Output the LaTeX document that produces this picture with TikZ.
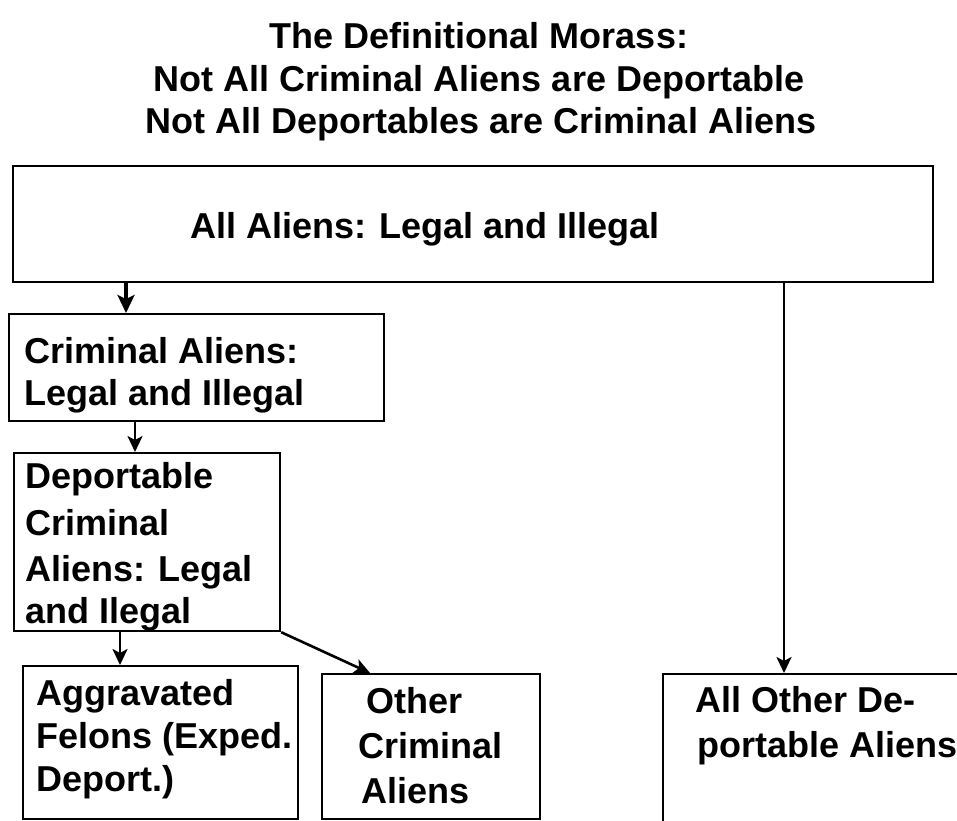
\documentclass[tikz,border=0pt]{standalone}
\usepackage{fontspec}
\setmainfont{Liberation Sans}
\usetikzlibrary{arrows.meta}
\tikzset{
  box/.style={draw=black, line width=2.2pt, rectangle, inner sep=0pt, anchor=north west},
  lbl/.style={font=\fontsize{36}{43}\selectfont\bfseries, inner sep=0pt, anchor=base west},
  ttl/.style={font=\fontsize{36}{43}\selectfont\bfseries, inner sep=0pt, anchor=base},
  arr/.style={line width=2.6pt, -{Stealth[length=16pt,width=15pt,inset=4pt]}},
  arrthick/.style={line width=3.6pt, -{Stealth[length=18pt,width=17pt,inset=4pt]}}
}
\begin{document}
\begin{tikzpicture}[x=1pt,y=-1pt]
\clip (0,0) rectangle (957,820);
\fill[white] (0,0) rectangle (957,820);
% title
\node[ttl] (h1) at (479,48) {The Definitional Morass:};
\node[ttl] (h2) at (479,91) {Not All Criminal Aliens are Deportable};
\node[ttl] (h3) at (481,133) {Not All Deportables are Criminal Aliens};
% boxes
\node[box, minimum width=920pt, minimum height=116pt] (b1) at (12,165) {};
\node[box, minimum width=375pt, minimum height=107pt] (b2) at (8,313) {};
\node[box, minimum width=266pt, minimum height=178pt] (b3) at (13,452) {};
\node[box, minimum width=275pt, minimum height=153pt] (b4) at (22,665) {};
\node[box, minimum width=218pt, minimum height=145pt] (b5) at (321,673) {};
\node[box, minimum width=340pt, minimum height=200pt] (b6) at (662,673) {};
% texts
\node[lbl] (t1) at (190,238) {All Aliens: Legal and Illegal};
\node[lbl] (t2a) at (24,363) {Criminal Aliens:};
\node[lbl] (t2b) at (24,405) {Legal and Illegal};
\node[lbl] (t3a) at (25,488) {Deportable};
\node[lbl] (t3b) at (25,535) {Criminal};
\node[lbl] (t3c) at (25,581) {Aliens: Legal};
\node[lbl] (t3d) at (25,623) {and Ilegal};
\node[lbl] (t4a) at (36,705) {Aggravated};
\node[lbl] (t4b) at (36,748) {Felons (Exped.};
\node[lbl] (t4c) at (36,791) {Deport.)};
\node[lbl] (t5a) at (366,713) {Other};
\node[lbl] (t5b) at (358,758) {Criminal};
\node[lbl] (t5c) at (361,803) {Aliens};
\node[lbl] (t6a) at (695,712) {All Other De-};
\node[lbl] (t6b) at (697,757) {portable Aliens};
% connector x positions
\coordinate (x1) at (126,0);
\coordinate (x2) at (135,0);
\coordinate (x3) at (120,0);
\coordinate (x4) at (370,0);
\coordinate (x5) at (784,0);
% connectors
\draw[arrthick] (b1.south -| x1) -- (b2.north -| x1);
\draw[arr] (b2.south -| x2) -- (b3.north -| x2);
\draw[arr] (b3.south -| x3) -- (b4.north -| x3);
\draw[arr] (b3.south east) -- (b5.north -| x4);
\draw[arr] (b1.south -| x5) -- (b6.north -| x5);
\end{tikzpicture}
\end{document}
